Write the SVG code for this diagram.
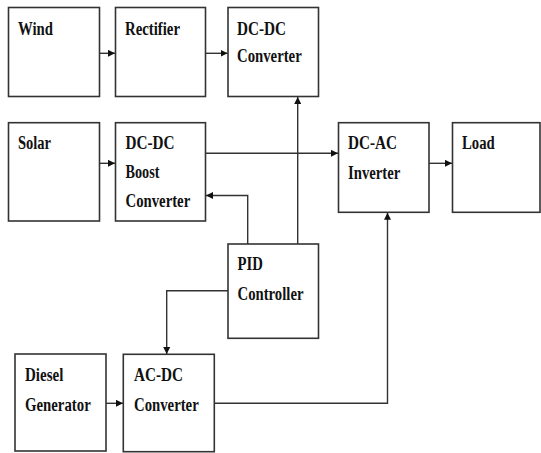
<svg xmlns="http://www.w3.org/2000/svg" width="541" height="453" viewBox="0 0 541 453">
<defs>
<style>
.box{fill:#fff;stroke:#333;stroke-width:1.6}
.t{font-family:"Times New Roman","Liberation Serif",serif;font-weight:700;font-size:18px;fill:#111}
.c{fill:none;stroke:#333;stroke-width:1.4}
</style>
<marker id="ah" viewBox="0 0 10 10" refX="10" refY="5" markerWidth="7" markerHeight="7" markerUnits="userSpaceOnUse" orient="auto">
<path d="M0,0 L10,5 L0,10 z" fill="#111"/>
</marker>
</defs>
<rect width="541" height="453" fill="#fff"/>
<g id="wind"><rect class="box" x="8.5" y="7.5" width="91" height="89"/><text class="t" x="18" y="34.5" textLength="35" lengthAdjust="spacingAndGlyphs">Wind</text></g>
<g id="rectifier"><rect class="box" x="115.5" y="7.5" width="90" height="89"/><text class="t" x="125" y="34.5" textLength="55" lengthAdjust="spacingAndGlyphs">Rectifier</text></g>
<g id="dcdc"><rect class="box" x="228" y="7.5" width="90.5" height="89"/><text class="t" x="237" y="35" textLength="49" lengthAdjust="spacingAndGlyphs">DC-DC</text><text class="t" x="237" y="61.5" textLength="64.7" lengthAdjust="spacingAndGlyphs">Converter</text></g>
<g id="solar"><rect class="box" x="8.5" y="122.7" width="91" height="98.3"/><text class="t" x="18" y="149" textLength="33" lengthAdjust="spacingAndGlyphs">Solar</text></g>
<g id="boost"><rect class="box" x="115.5" y="122.7" width="90" height="98.3"/><text class="t" x="125.5" y="149" textLength="49" lengthAdjust="spacingAndGlyphs">DC-DC</text><text class="t" x="125.5" y="178" textLength="34" lengthAdjust="spacingAndGlyphs">Boost</text><text class="t" x="125.5" y="207" textLength="64.7" lengthAdjust="spacingAndGlyphs">Converter</text></g>
<g id="inverter"><rect class="box" x="338.5" y="122.7" width="90.5" height="89.6"/><text class="t" x="348" y="149" textLength="49" lengthAdjust="spacingAndGlyphs">DC-AC</text><text class="t" x="348" y="178.5" textLength="52.3" lengthAdjust="spacingAndGlyphs">Inverter</text></g>
<g id="load"><rect class="box" x="452.5" y="122.7" width="87.5" height="89.6"/><text class="t" x="462" y="149" textLength="32.7" lengthAdjust="spacingAndGlyphs">Load</text></g>
<g id="pid"><rect class="box" x="228" y="244" width="90.5" height="94.3"/><text class="t" x="237.5" y="269.5" textLength="25.3" lengthAdjust="spacingAndGlyphs">PID</text><text class="t" x="237.5" y="299.5" textLength="66" lengthAdjust="spacingAndGlyphs">Controller</text></g>
<g id="diesel"><rect class="box" x="15" y="354" width="91" height="97"/><text class="t" x="25" y="380.5" textLength="38.3" lengthAdjust="spacingAndGlyphs">Diesel</text><text class="t" x="25" y="410.5" textLength="65.7" lengthAdjust="spacingAndGlyphs">Generator</text></g>
<g id="acdc"><rect class="box" x="123.3" y="354.3" width="91" height="97.4"/><text class="t" x="134" y="380.5" textLength="49" lengthAdjust="spacingAndGlyphs">AC-DC</text><text class="t" x="134" y="410.5" textLength="64.7" lengthAdjust="spacingAndGlyphs">Converter</text></g>
<g id="connectors">
<path class="c" d="M99.5,53.3 H115" marker-end="url(#ah)"/>
<path class="c" d="M205.5,53.3 H227.5" marker-end="url(#ah)"/>
<path class="c" d="M99.5,163.3 H115" marker-end="url(#ah)"/>
<path class="c" d="M205.5,153.3 H338" marker-end="url(#ah)"/>
<path class="c" d="M429,163.3 H452" marker-end="url(#ah)"/>
<path class="c" d="M297.7,244 V97" marker-end="url(#ah)"/>
<path class="c" d="M247.7,244 V195.5 H206" marker-end="url(#ah)"/>
<path class="c" d="M228,290.7 H166.7 V354" marker-end="url(#ah)"/>
<path class="c" d="M106,403.3 H123" marker-end="url(#ah)"/>
<path class="c" d="M214.3,403.3 H387.5 V212.8" marker-end="url(#ah)"/>
</g>
</svg>
